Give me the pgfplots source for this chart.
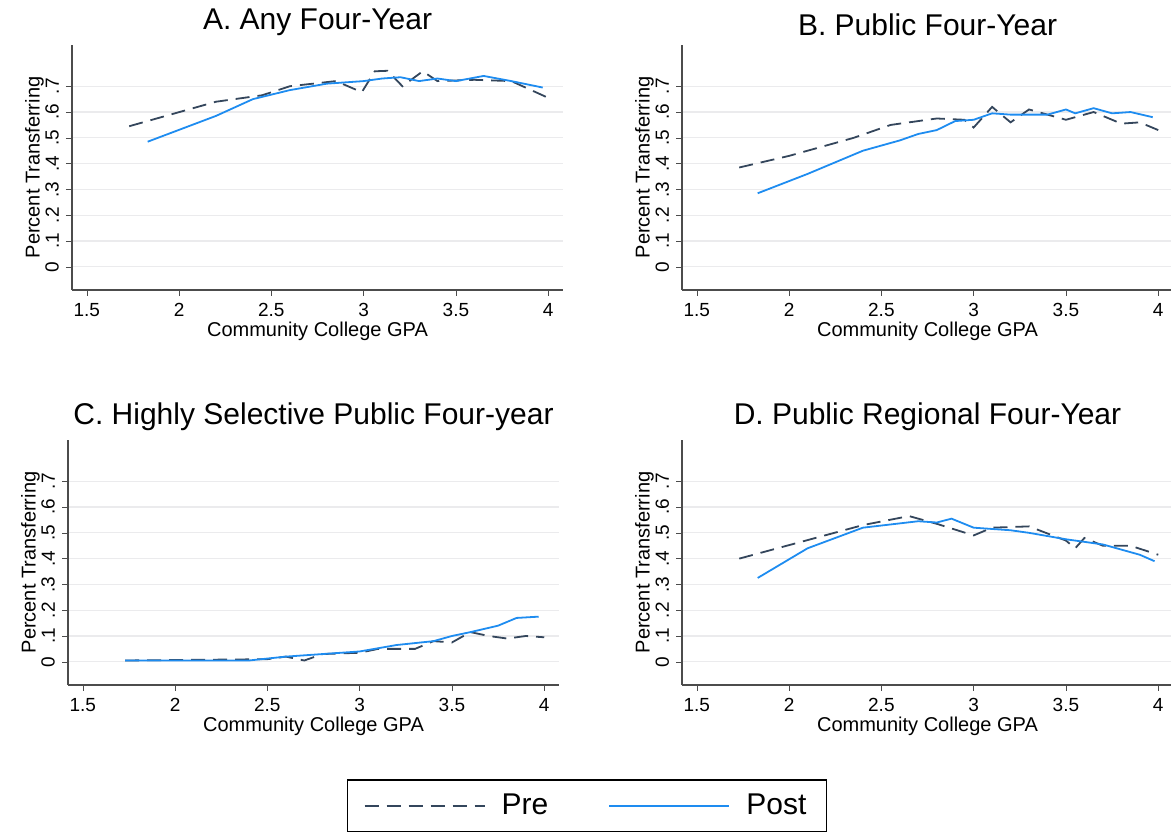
\documentclass[border=0pt]{standalone}
\usepackage{pgfplots}
\pgfplotsset{compat=1.18}
\usepackage{fontspec}
\setmainfont{Liberation Sans}
\definecolor{preC}{RGB}{52,70,92}
\definecolor{postC}{RGB}{30,140,240}
\pgfplotsset{
 panel/.style={scale only axis, width=245.5pt, height=122.5pt, anchor=north west,
  xmin=1.42, xmax=4.08, ymin=-0.09, ymax=0.86,
  axis lines*=left, axis line style={black!70, line width=0.6pt},
  xtick={1.5,2,2.5,3,3.5,4}, xticklabels={1.5,2,2.5,3,3.5,4},
  ytick={0,0.1,...,0.7}, yticklabels={0,.1,.2,.3,.4,.5,.6,.7},
  yticklabel style={rotate=90, anchor=south, font=\fontsize{9.5}{10}\selectfont},
  xticklabel style={font=\fontsize{9.5}{10}\selectfont},
  tick align=outside, tick style={black!70}, major tick length=3pt,
  ymajorgrids, grid style={blue!6!gray!15, line width=0.6pt},
  xlabel={Community College GPA}, ylabel={Percent Transferring},
  xlabel style={font=\fontsize{10}{11}\selectfont, yshift=4pt},
  ylabel style={font=\fontsize{10}{11}\selectfont, yshift=-6pt},
  title style={font=\fontsize{15}{16}\selectfont, yshift=-5pt},
  /pgf/number format/assume math mode=true,
 },
 pre/.style={preC, dash pattern=on 7pt off 4pt, line width=0.9pt},
 post/.style={postC, solid, line width=0.9pt},
}
\begin{document}
\begin{tikzpicture}
\path[use as bounding box] (0,0) rectangle (585.5pt,-419.5pt);
\begin{axis}[panel, at={(36pt,-22.5pt)}, title={A. Any Four-Year}]
\addplot[pre] coordinates {(1.73,.545)(2.2,.64)(2.45,.665)(2.6,.70)(2.85,.72)(2.99,.677)(3.06,.758)(3.13,.76)(3.21,.70)(3.32,.758)(3.4,.72)(3.6,.725)(3.8,.72)(4.0,.655)};
\addplot[post] coordinates {(1.83,.485)(2.2,.585)(2.4,.65)(2.6,.685)(2.8,.71)(3.0,.72)(3.1,.73)(3.2,.735)(3.3,.72)(3.4,.73)(3.5,.72)(3.65,.74)(3.8,.72)(3.97,.695)};
\end{axis}
\begin{axis}[panel, at={(341pt,-22.5pt)}, title={B. Public Four-Year}]
\addplot[pre] coordinates {(1.73,.385)(2.0,.43)(2.35,.50)(2.55,.55)(2.8,.575)(2.95,.57)(3.0,.54)(3.1,.62)(3.2,.56)(3.3,.61)(3.5,.57)(3.65,.60)(3.8,.555)(3.9,.56)(4.0,.53)};
\addplot[post] coordinates {(1.83,.285)(2.1,.36)(2.4,.45)(2.6,.49)(2.7,.515)(2.8,.53)(2.9,.565)(3.0,.57)(3.1,.595)(3.2,.59)(3.4,.59)(3.5,.61)(3.55,.595)(3.65,.615)(3.75,.595)(3.85,.60)(3.97,.58)};
\end{axis}
\begin{axis}[panel, at={(34pt,-220pt)}, title={C. Highly Selective Public Four-year},
 legend style={at={(1.057,-0.385)}, anchor=north, legend columns=2, draw=black, line width=0.6pt,
 font=\fontsize{15}{16}\selectfont, /tikz/every even column/.append style={column sep=28pt},
 /tikz/every odd column/.append style={column sep=6pt},
 inner xsep=8pt, inner ysep=5pt}, legend image post style={line width=1pt},
 legend image code/.code={\draw[#1] (0pt,0pt) -- (60pt,0pt);}]
\addplot[pre] coordinates {(1.73,.005)(2.5,.01)(2.6,.02)(2.7,.005)(2.8,.03)(3.0,.035)(3.1,.05)(3.3,.05)(3.4,.08)(3.5,.075)(3.6,.115)(3.7,.10)(3.8,.09)(3.9,.10)(4.0,.095)};
\addplot[post] coordinates {(1.73,.005)(2.4,.005)(2.6,.02)(2.8,.03)(3.0,.04)(3.2,.065)(3.4,.08)(3.5,.10)(3.6,.115)(3.75,.14)(3.85,.17)(3.97,.175)};
\legend{Pre,Post}
\end{axis}
\begin{axis}[panel, at={(341pt,-220pt)}, title={D. Public Regional Four-Year}]
\addplot[pre] coordinates {(1.73,.40)(2.4,.53)(2.65,.565)(2.8,.535)(3.0,.49)(3.1,.52)(3.3,.525)(3.5,.47)(3.55,.44)(3.6,.48)(3.7,.45)(3.85,.45)(4.0,.415)};
\addplot[post] coordinates {(1.83,.325)(2.1,.44)(2.4,.52)(2.7,.545)(2.8,.54)(2.88,.555)(3.0,.52)(3.2,.51)(3.3,.50)(3.5,.475)(3.7,.455)(3.9,.415)(3.98,.39)};
\end{axis}
\end{tikzpicture}
\end{document}
